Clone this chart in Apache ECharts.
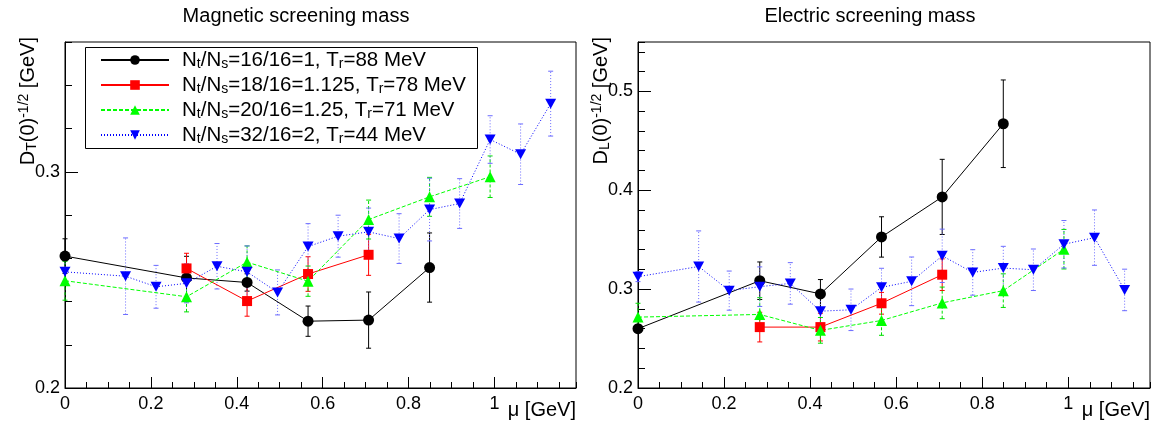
<!DOCTYPE html>
<html><head><meta charset="utf-8">
<script src="https://cdn.jsdelivr.net/npm/echarts@6/dist/echarts.min.js"></script>
<style>html,body{margin:0;padding:0;background:#fff}#c{width:1153px;height:427px}</style>
</head><body><div id="c"></div>
<script>
// ---------- labels ----------
const seriesNames = ['N_t/N_s=16/16=1, T_r=88 MeV', 'N_t/N_s=18/16=1.125, T_r=78 MeV', 'N_t/N_s=20/16=1.25, T_r=71 MeV', 'N_t/N_s=32/16=2, T_r=44 MeV'];
const panelTitles = ['Magnetic screening mass', 'Electric screening mass'];
const yTitles = ['D{s|T}(0){p|-1/2} [GeV]', 'D{s|L}(0){p|-1/2} [GeV]'];
const xTitle = 'μ [GeV]';

// ---------- magnetic (left) ----------
const magBlackX = [0, 0.283, 0.424, 0.566, 0.707, 0.849];
const magBlackY = [0.2610, 0.2509, 0.2488, 0.2309, 0.2314, 0.2557];
const magBlackE = [0.008, 0.010, 0.004, 0.007, 0.013, 0.016];

const magRedX = [0.283, 0.424, 0.566, 0.707];
const magRedY = [0.2553, 0.2402, 0.2527, 0.2616];
const magRedE = [0.007, 0.007, 0.008, 0.0095];

const magGreenX = [0, 0.283, 0.424, 0.566, 0.707, 0.849, 0.990];
const magGreenY = [0.2496, 0.2422, 0.2582, 0.2494, 0.2779, 0.2884, 0.2977];
const magGreenE = [0.009, 0.007, 0.0075, 0.007, 0.009, 0.009, 0.0096];

const magBlueX = [0, 0.141, 0.212, 0.283, 0.354, 0.424, 0.495, 0.566, 0.636, 0.707, 0.778, 0.849, 0.919, 0.990, 1.061, 1.131];
const magBlueY = [0.2537, 0.2517, 0.2468, 0.2484, 0.2563, 0.2537, 0.2442, 0.2654, 0.2702, 0.2722, 0.2691, 0.2825, 0.2853, 0.3149, 0.3081, 0.3315];
const magBlueE = [0.006, 0.0177, 0.0099, 0.009, 0.0105, 0.012, 0.0104, 0.0106, 0.0097, 0.011, 0.0115, 0.0145, 0.0115, 0.011, 0.014, 0.015];

// ---------- electric (right) ----------
const eleBlackX = [0, 0.283, 0.424, 0.566, 0.707, 0.849];
const eleBlackY = [0.2600, 0.3085, 0.2952, 0.3528, 0.3933, 0.4673];
const eleBlackE = [0.004, 0.019, 0.0145, 0.0204, 0.038, 0.0443];

const eleRedX = [0.283, 0.424, 0.566, 0.707];
const eleRedY = [0.2616, 0.2616, 0.2857, 0.3146];
const eleRedE = [0.015, 0.014, 0.011, 0.016];

const eleGreenX = [0, 0.283, 0.424, 0.566, 0.707, 0.849, 0.990];
const eleGreenY = [0.2717, 0.2744, 0.2583, 0.2683, 0.2861, 0.2985, 0.3404];
const eleGreenE = [0.014, 0.017, 0.013, 0.015, 0.016, 0.017, 0.020];

const eleBlueX = [0, 0.141, 0.212, 0.283, 0.354, 0.424, 0.495, 0.566, 0.636, 0.707, 0.778, 0.849, 0.919, 0.990, 1.061, 1.131];
const eleBlueY = [0.3126, 0.3229, 0.2985, 0.3025, 0.3058, 0.2777, 0.2791, 0.3018, 0.3079, 0.3337, 0.3169, 0.3213, 0.3196, 0.3454, 0.3521, 0.2992];
const eleBlueE = [0.005, 0.036, 0.0198, 0.02, 0.021, 0.018, 0.021, 0.0193, 0.0246, 0.027, 0.023, 0.022, 0.021, 0.024, 0.028, 0.021];

// ---------- styling ----------
const FONT = "'Liberation Sans', Arial, Helvetica, sans-serif";
const styles = [
  { color: '#000000', errColor: '#000000', symbol: 'circle', size: 11, dash: 'solid', errDash: null },
  { color: '#ff0000', errColor: '#ff0000', symbol: 'rect', size: 10, dash: 'solid', errDash: null },
  { color: '#00ff00', errColor: '#00e000', symbol: 'triangle', size: 11, dash: [4, 2], errDash: [3, 2] },
  { color: '#0000ff', errColor: '#6b6bff', symbol: 'path://M0,0L10,0L5,9Z', size: [11, 10], dash: [1, 2], errDash: [1, 2] }
];

const panels = [
  { sets: [[magBlackX, magBlackY, magBlackE], [magRedX, magRedY, magRedE], [magGreenX, magGreenY, magGreenE], [magBlueX, magBlueY, magBlueE]],
    ymax: 0.36, grid: { left: 65, top: 42, width: 511, height: 346 } },
  { sets: [[eleBlackX, eleBlackY, eleBlackE], [eleRedX, eleRedY, eleRedE], [eleGreenX, eleGreenY, eleGreenE], [eleBlueX, eleBlueY, eleBlueE]],
    ymax: 0.55, grid: { left: 638, top: 42, width: 512, height: 346 } }
];

const fmt = v => (Math.abs(v) < 1e-9 ? '0' : String(Math.round(v * 10) / 10));

const grids = [], xAxes = [], yAxes = [], series = [];
panels.forEach((p, gi) => {
  grids.push(Object.assign({ show: true, borderColor: '#000', borderWidth: 1, backgroundColor: 'transparent', outerBoundsMode: 'none', containLabel: false }, p.grid));
  const xMajor = xAxes.length;
  xAxes.push({ gridIndex: gi, type: 'value', position: 'bottom', min: 0, max: 1.19, interval: 0.2,
    axisLine: { show: true, onZero: false, lineStyle: { color: '#000', width: 1 } },
    axisTick: { show: true, inside: true, length: 11, lineStyle: { color: '#000', width: 1 } },
    axisLabel: { show: true, color: '#000', fontSize: 18, fontFamily: FONT, margin: 7, showMaxLabel: false, showMinLabel: true, hideOverlap: false, formatter: fmt },
    splitLine: { show: false } });
  xAxes.push({ gridIndex: gi, type: 'value', position: 'bottom', min: 0, max: 1.19, interval: 0.05,
    axisLine: { show: false, onZero: false }, axisLabel: { show: false },
    axisTick: { show: true, inside: true, length: 6, lineStyle: { color: '#000', width: 1 } },
    splitLine: { show: false } });
  const yMajor = yAxes.length;
  yAxes.push({ gridIndex: gi, type: 'value', position: 'left', min: 0.2, max: p.ymax, interval: 0.1,
    axisLine: { show: true, onZero: false, lineStyle: { color: '#000', width: 1 } },
    axisTick: { show: true, inside: true, length: 13, lineStyle: { color: '#000', width: 1 } },
    axisLabel: { show: true, color: '#000', fontSize: 18, fontFamily: FONT, margin: 5, showMaxLabel: false, showMinLabel: true, hideOverlap: false, formatter: fmt },
    splitLine: { show: false } });
  yAxes.push({ gridIndex: gi, type: 'value', position: 'left', min: 0.2, max: p.ymax, interval: 0.02,
    axisLine: { show: false, onZero: false }, axisLabel: { show: false },
    axisTick: { show: true, inside: true, length: 7, lineStyle: { color: '#000', width: 1 } },
    splitLine: { show: false } });

  p.sets.forEach((set, si) => {
    const [xs, ys, es] = set;
    const st = styles[si];
    series.push({
      type: 'custom', name: 'err' + gi + si, xAxisIndex: xMajor, yAxisIndex: yMajor, silent: true,
      data: xs.map((x, i) => [x, ys[i] - es[i], ys[i] + es[i]]),
      encode: { x: 0, y: [1, 2] },
      renderItem: (params, api) => {
        const lo = api.coord([api.value(0), api.value(1)]);
        const hi = api.coord([api.value(0), api.value(2)]);
        const cw = 2.5;
        const ls = { stroke: st.errColor, lineWidth: 1, lineDash: st.errDash || null };
        return { type: 'group', children: [
          { type: 'line', shape: { x1: lo[0], y1: lo[1], x2: hi[0], y2: hi[1] }, style: ls },
          { type: 'line', shape: { x1: lo[0] - cw, y1: lo[1], x2: lo[0] + cw, y2: lo[1] }, style: { stroke: st.errColor, lineWidth: 1 } },
          { type: 'line', shape: { x1: hi[0] - cw, y1: hi[1], x2: hi[0] + cw, y2: hi[1] }, style: { stroke: st.errColor, lineWidth: 1 } }
        ] };
      }
    });
    series.push({
      type: 'line', name: seriesNames[si], xAxisIndex: xMajor, yAxisIndex: yMajor,
      data: xs.map((x, i) => [x, ys[i]]),
      symbol: st.symbol, symbolSize: st.size, showSymbol: true,
      lineStyle: { color: st.color, width: 1, type: st.dash },
      itemStyle: { color: st.color, borderWidth: 0 },
      emphasis: { disabled: true }, silent: true
    });
  });
});

const richSmall = { fontSize: 14, fontFamily: FONT, fill: '#000', color: '#000' };
const graphic = [
  { type: 'rect', shape: { x: 85.5, y: 47.5, width: 392, height: 101 }, style: { fill: '#fff', stroke: '#000', lineWidth: 1 }, z: 0 },
  { type: 'text', x: 296, y: 16, style: { text: panelTitles[0], fontSize: 20, fontFamily: FONT, fill: '#000', align: 'center', verticalAlign: 'middle', textAlign: 'center', textVerticalAlign: 'middle' } },
  { type: 'text', x: 870, y: 16, style: { text: panelTitles[1], fontSize: 20, fontFamily: FONT, fill: '#000', align: 'center', verticalAlign: 'middle', textAlign: 'center', textVerticalAlign: 'middle' } },
  { type: 'text', x: 576, y: 410, style: { text: xTitle, fontSize: 20, fontFamily: FONT, fill: '#000', align: 'right', verticalAlign: 'middle', textAlign: 'right', textVerticalAlign: 'middle' } },
  { type: 'text', x: 1150, y: 410, style: { text: xTitle, fontSize: 20, fontFamily: FONT, fill: '#000', align: 'right', verticalAlign: 'middle', textAlign: 'right', textVerticalAlign: 'middle' } }
];
[[28, 37], [601, 37]].forEach((pos, i) => {
  graphic.push({ type: 'text', x: pos[0], y: pos[1], rotation: Math.PI / 2,
    style: { text: yTitles[i], fontSize: 20, fontFamily: FONT, fill: '#000', lineHeight: 22,
      align: 'right', verticalAlign: 'middle', textAlign: 'right', textVerticalAlign: 'middle',
      rich: {
        s: Object.assign({ lineHeight: 10, verticalAlign: 'bottom' }, richSmall, { fontSize: 14 }),
        p: Object.assign({ lineHeight: 10, verticalAlign: 'top' }, richSmall, { fontSize: 14 })
      } } });
});

const chart = echarts.init(document.getElementById('c'), null, { renderer: 'canvas' });
chart.setOption({
  animation: false,
  backgroundColor: '#fff',
  grid: grids, xAxis: xAxes, yAxis: yAxes, series: series,
  graphic: graphic,
  legend: {
    data: seriesNames, orient: 'vertical', left: 100, top: 49, padding: 0,
    itemWidth: 68, itemHeight: 12, itemGap: 3, selectedMode: false, z: 10,
    formatter: name => name.replace(/_(\w)/g, '{s|$1}'),
    textStyle: { fontSize: 20.5, fontFamily: FONT, color: '#000', lineHeight: 22, padding: [0, 0, 0, 8],
      rich: { s: { fontSize: 14, fontFamily: FONT, color: '#000', lineHeight: 10, verticalAlign: 'bottom' } } }
  }
});
</script></body></html>
